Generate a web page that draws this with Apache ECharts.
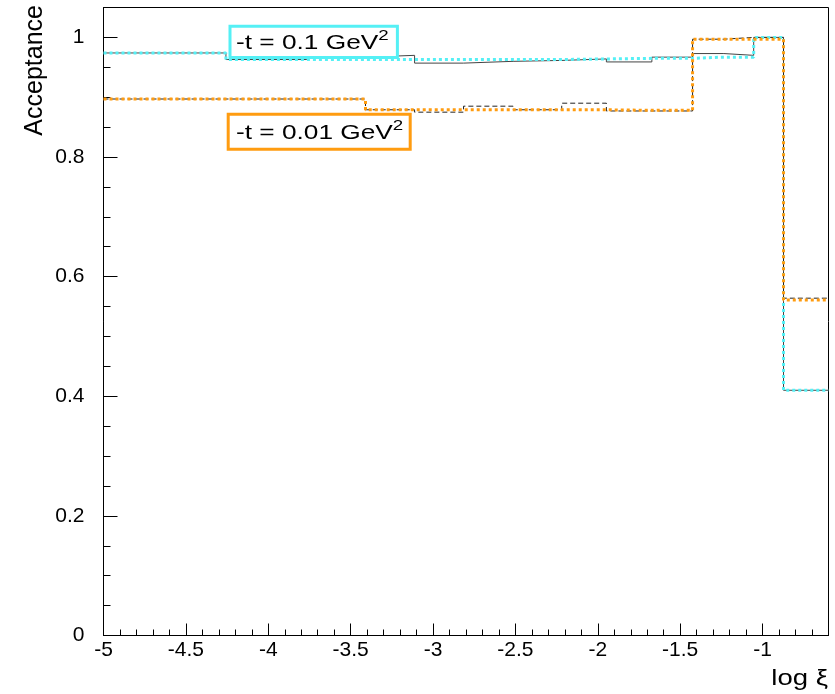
<!DOCTYPE html>
<html>
<head>
<meta charset="utf-8">
<script src="https://cdn.jsdelivr.net/npm/echarts@6/dist/echarts.min.js"></script>
<style>
html,body{margin:0;padding:0;background:#fff;}
#chart{width:835px;height:694px;}
</style>
</head>
<body>
<div id="chart"></div>
<script>
// Bin edges in log xi
const binEdges = [-5, -4.257, -3.767, -3.41, -3.112, -2.815, -2.514, -2.219, -1.948, -1.672, -1.425, -1.235, -1.054, -0.873, -0.6];
// -t = 0.1 GeV^2 (black solid, cyan dotted)
const accT01Solid  = [0.974, 0.963, 0.967, 0.970, 0.957, 0.960, 0.9615, 0.964, 0.959, 0.967, 0.973, 0.970, 1.000, 0.410];
const accT01Dotted = [0.974, 0.963, 0.963, 0.963, 0.963, 0.963, 0.963, 0.964, 0.965, 0.965, 0.967, 0.967, 1.000, 0.410];
// -t = 0.01 GeV^2 (black dashed, orange dotted)
const accT001Dashed = [0.897, 0.897, 0.897, 0.879, 0.875, 0.885, 0.879, 0.890, 0.877, 0.877, 0.997, 1.000, 1.000, 0.564];
const accT001Dotted = [0.897, 0.897, 0.897, 0.879, 0.879, 0.879, 0.879, 0.879, 0.878, 0.878, 0.997, 0.997, 0.997, 0.561];
const xTickLabels = ['-5', '-4.5', '-4', '-3.5', '-3', '-2.5', '-2', '-1.5', '-1'];
const yTickLabels = ['0', '0.2', '0.4', '0.6', '0.8', '1'];
const legendLabels = ['-t = 0.1 GeV', '-t = 0.01 GeV'];
const legendSup = '2';
const xTitle = 'log \u03BE';
const yTitle = 'Acceptance';

function histData(vals) {
  const d = vals.map((v, i) => [binEdges[i], v]);
  d.push([binEdges[binEdges.length - 1], vals[vals.length - 1]]);
  return d;
}

const FONT = '"Liberation Sans", Arial, Helvetica, sans-serif';
const chart = echarts.init(document.getElementById('chart'), null, {renderer: 'canvas'});

const legendRich = {
  a: {fontFamily: FONT, fontSize: 21, lineHeight: 30, color: '#000'},
  s: {fontFamily: FONT, fontSize: 15, lineHeight: 15, verticalAlign: 'top', color: '#000'}
};

const option = {
  animation: false,
  backgroundColor: '#fff',
  grid: {left: 103.5, right: 6.5, top: 7.5, bottom: 58.5, show: true, borderColor: '#000', borderWidth: 1, backgroundColor: 'transparent'},
  xAxis: [
    {
      type: 'value', min: -5, max: -0.6, interval: 0.5, position: 'bottom',
      axisLine: {show: true, lineStyle: {color: '#000', width: 1}},
      axisTick: {show: true, inside: true, length: 12, lineStyle: {color: '#000', width: 1}},
      splitLine: {show: false},
      axisLabel: {
        show: true, margin: 4, color: '#000', fontSize: 21, fontFamily: FONT,
        showMaxLabel: false,
        formatter: function (v) {
          const idx = Math.round((v + 5) / 0.5);
          return (idx >= 0 && idx < xTickLabels.length && Math.abs(v - (-5 + idx * 0.5)) < 1e-6) ? xTickLabels[idx] : '';
        }
      }
    },
    {
      type: 'value', min: -5, max: -0.6, interval: 0.1, position: 'bottom', offset: 0,
      axisLine: {show: false},
      axisTick: {show: true, inside: true, length: 6, lineStyle: {color: '#000', width: 1}},
      splitLine: {show: false},
      axisLabel: {show: false}
    }
  ],
  yAxis: [
    {
      type: 'value', min: 0, max: 1.05, interval: 0.2, position: 'left',
      axisLine: {show: true, lineStyle: {color: '#000', width: 1}},
      axisTick: {show: true, inside: true, length: 14, lineStyle: {color: '#000', width: 1}},
      splitLine: {show: false},
      axisLabel: {
        show: true, margin: 19, color: '#000', fontSize: 21, fontFamily: FONT,
        showMaxLabel: false,
        formatter: function (v) {
          const idx = Math.round(v / 0.2);
          return (idx >= 0 && idx < yTickLabels.length && Math.abs(v - idx * 0.2) < 1e-6) ? yTickLabels[idx] : '';
        }
      }
    },
    {
      type: 'value', min: 0, max: 1.05, interval: 0.05, position: 'left', offset: 0,
      axisLine: {show: false},
      axisTick: {show: true, inside: true, length: 7, lineStyle: {color: '#000', width: 1}},
      splitLine: {show: false},
      axisLabel: {show: false}
    }
  ],
  series: [
    {
      type: 'line', step: 'end', showSymbol: false, symbol: 'none', clip: true,
      data: histData(accT01Solid),
      lineStyle: {color: '#444', width: 1, type: 'solid'}, z: 2
    },
    {
      type: 'line', step: 'end', showSymbol: false, symbol: 'none', clip: true,
      data: histData(accT001Dashed),
      lineStyle: {color: '#222', width: 1, type: [5, 3]}, z: 3
    },
    {
      type: 'line', step: 'end', showSymbol: false, symbol: 'none', clip: true,
      data: histData(accT01Dotted),
      lineStyle: {color: '#55f0f5', width: 3, type: [3, 3], cap: 'butt'}, z: 4
    },
    {
      type: 'line', step: 'end', showSymbol: false, symbol: 'none', clip: true,
      data: histData(accT001Dotted),
      lineStyle: {color: '#ff9c10', width: 3, type: [3, 3], cap: 'butt'}, z: 5
    }
  ],
  graphic: [
    {type: 'rect', z: 100, shape: {x: 230, y: 26.3, width: 167.4, height: 31.2},
     style: {fill: '#fff', stroke: '#55f0f5', lineWidth: 3}},
    {type: 'text', z: 101, x: 236, y: 43, scaleX: 1.25,
     style: {text: '{a|' + legendLabels[0] + '}{s|' + legendSup + '}', rich: legendRich, align: 'left', verticalAlign: 'middle'}},
    {type: 'rect', z: 100, shape: {x: 228.2, y: 114.2, width: 182, height: 35},
     style: {fill: '#fff', stroke: '#ff9c10', lineWidth: 3}},
    {type: 'text', z: 101, x: 236, y: 133, scaleX: 1.25,
     style: {text: '{a|' + legendLabels[1] + '}{s|' + legendSup + '}', rich: legendRich, align: 'left', verticalAlign: 'middle'}},
    {type: 'text', z: 101, x: 35, y: 5, rotation: Math.PI / 2,
     style: {text: yTitle, font: '25px ' + FONT, fill: '#000', align: 'right', verticalAlign: 'middle'}},
    {type: 'text', z: 101, x: 828, y: 679, scaleX: 1.25,
     style: {text: xTitle, font: '22px ' + FONT, fill: '#000', align: 'right', verticalAlign: 'middle'}}
  ]
};
chart.setOption(option);
</script>
</body>
</html>
